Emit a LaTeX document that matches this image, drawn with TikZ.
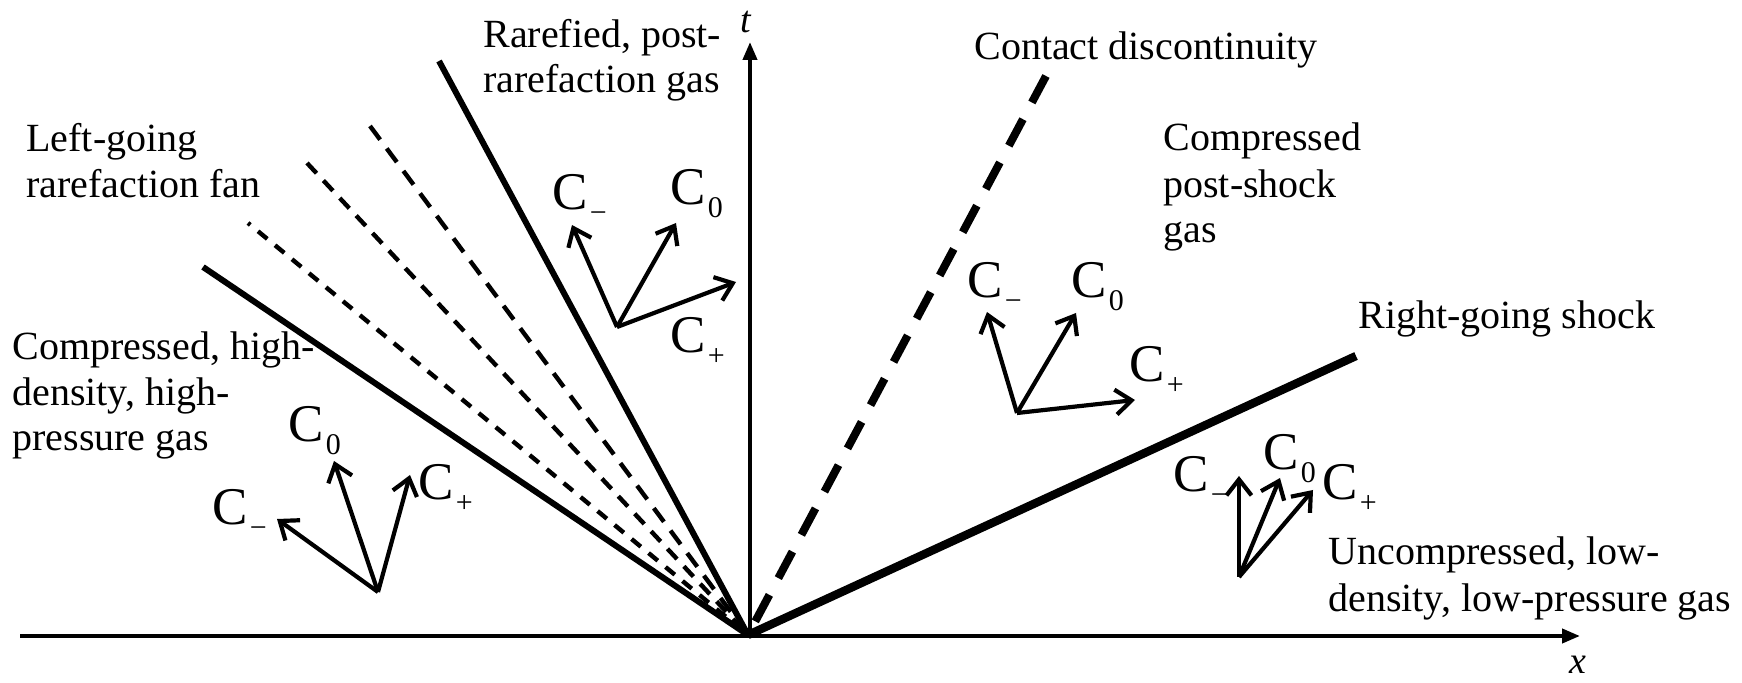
\documentclass[tikz,border=0pt]{standalone}
\usepackage{fontspec}
\setmainfont{Liberation Serif}
\usetikzlibrary{arrows.meta}
\newcommand\Cs[1]{C\kern1pt\raisebox{-6.5pt}{\fontsize{15}{15}\selectfont #1}}
\begin{document}
\begin{tikzpicture}[x=0.5pt,y=-0.5pt,
  lbl/.style={anchor=base west,inner sep=0pt,font=\fontsize{20}{24}\selectfont},
  clbl/.style={anchor=base west,inner sep=0pt,font=\fontsize{26.5}{28}\selectfont},
  axlbl/.style={anchor=base west,inner sep=0pt,font=\fontsize{19}{23}\selectfont\itshape},
  axis/.style={line width=2pt,-{Triangle[length=9pt,width=7pt]}},
  fan/.style={line width=3pt},
  fandash/.style={line width=2.2pt},
  contact/.style={line width=4pt,dash pattern=on 15pt off 9.5pt},
  shock/.style={line width=4.2pt},
  charl/.style={line width=2.1pt,-{Straight Barb[length=8pt,width=12.5pt]}},
  ]
\useasboundingbox (0,0) rectangle (1742,683);
% axes
\coordinate (O) at (748,635);
\coordinate (xs) at (20,636);
\coordinate (xe) at (1580,636);
\coordinate (ts) at (750,637);
\coordinate (te) at (750,42);
\draw[axis] (xs) -- (xe);
\draw[axis] (ts) -- (te);
\node[axlbl] (tlbl) at (740,33) {t};
\node[axlbl] (xlbl) at (1569,674) {x};
% rarefaction fan
\coordinate (F1) at (203,267);
\coordinate (F2) at (248,223);
\coordinate (F3) at (307,163);
\coordinate (F4) at (370,126);
\coordinate (F5) at (439,61);
\draw[fan] (F1) -- (O);
\draw[fan] (F5) -- (O);
\draw[fandash,dash pattern=on 6pt off 5pt,dash phase=4.5pt] (F2) -- (O);
\draw[fandash,dash pattern=on 7pt off 5pt] (F3) -- (O);
\draw[fandash,dash pattern=on 8.5pt off 5.5pt] (F4) -- (O);
% contact discontinuity and shock
\coordinate (CD) at (1046,76);
\coordinate (SH) at (1356,356);
\draw[contact] (CD) -- (O);
\draw[shock] (O) -- (SH);
% texts
\node[lbl] (r1) at (483,48) {Rarefied, post-};
\node[lbl] (r2) at (483,93) {rarefaction gas};
\node[lbl] (l1) at (26,152) {Left-going};
\node[lbl] (l2) at (26,198) {rarefaction fan};
\node[lbl] (h1) at (12,360) {Compressed, high-};
\node[lbl] (h2) at (12,406) {density, high-};
\node[lbl] (h3) at (12,451) {pressure gas};
\node[lbl] (cdl) at (974,60) {Contact discontinuity};
\node[lbl] (p1) at (1163,151) {Compressed};
\node[lbl] (p2) at (1163,198) {post-shock};
\node[lbl] (p3) at (1163,243) {gas};
\node[lbl] (rs) at (1358,329) {Right-going shock};
\node[lbl] (u1) at (1328,565) {Uncompressed, low-};
\node[lbl] (u2) at (1328,612) {density, low-pressure gas};
% group A: rarefied region
\coordinate (A) at (617,327);
\coordinate (Am) at (572,225);
\coordinate (Az) at (676,223);
\coordinate (Ap) at (736,282);
\draw[charl] (A) -- (Am);
\draw[charl] (A) -- (Az);
\draw[charl] (A) -- (Ap);
\node[clbl] (Aml) at (552,210) {\Cs{−}};
\node[clbl] (Azl) at (670,205) {\Cs{0}};
\node[clbl] (Apl) at (670,353) {\Cs{+}};
% group B: high-pressure region
\coordinate (B) at (378,592);
\coordinate (Bm) at (277,519);
\coordinate (Bz) at (334,461);
\coordinate (Bp) at (410,475);
\draw[charl] (B) -- (Bm);
\draw[charl] (B) -- (Bz);
\draw[charl] (B) -- (Bp);
\node[clbl] (Bml) at (212,525) {\Cs{−}};
\node[clbl] (Bzl) at (288,442) {\Cs{0}};
\node[clbl] (Bpl) at (418,500) {\Cs{+}};
% group C: post-shock region
\coordinate (Cc) at (1017,413);
\coordinate (Cm) at (987,312);
\coordinate (Cz) at (1076,313);
\coordinate (Cp) at (1135,400);
\draw[charl] (Cc) -- (Cm);
\draw[charl] (Cc) -- (Cz);
\draw[charl] (Cc) -- (Cp);
\node[clbl] (Cml) at (967,298) {\Cs{−}};
\node[clbl] (Czl) at (1071,298) {\Cs{0}};
\node[clbl] (Cpl) at (1129,382) {\Cs{+}};
% group D: uncompressed region
\coordinate (D) at (1239,577);
\coordinate (Dm) at (1239,476);
\coordinate (Dz) at (1280,478);
\coordinate (Dp) at (1313,490);
\draw[charl] (D) -- (Dm);
\draw[charl] (D) -- (Dz);
\draw[charl] (D) -- (Dp);
\node[clbl] (Dml) at (1173,492) {\Cs{−}};
\node[clbl] (Dzl) at (1263,470) {\Cs{0}};
\node[clbl] (Dpl) at (1322,500) {\Cs{+}};
\end{tikzpicture}
\end{document}
